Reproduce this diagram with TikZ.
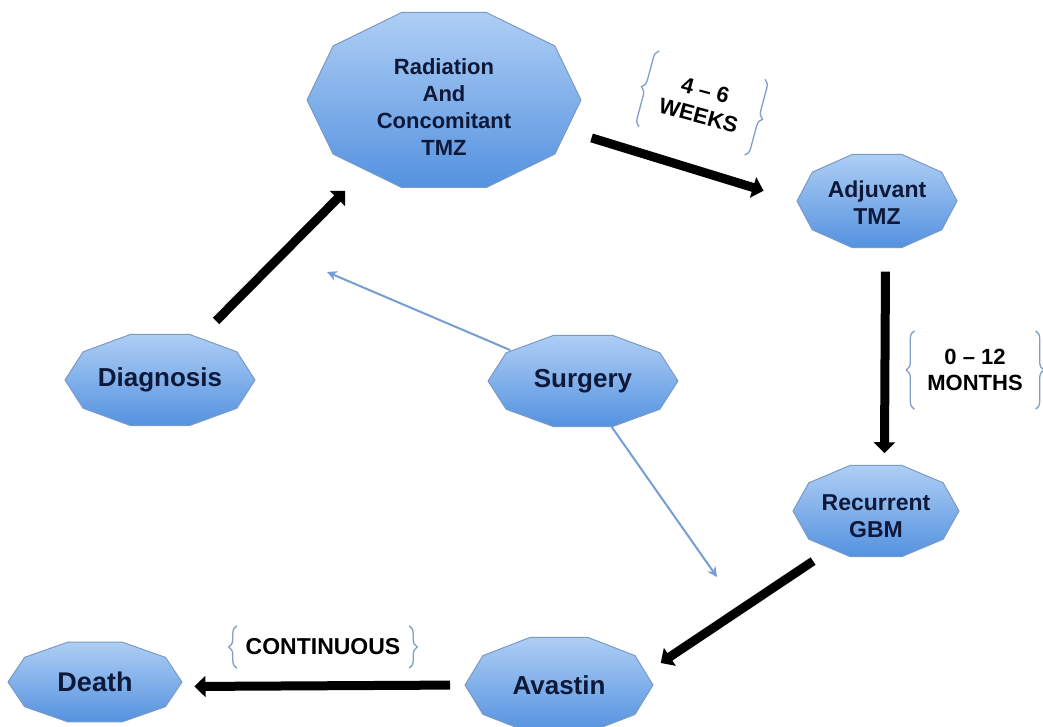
\documentclass[tikz,border=0pt]{standalone}
\usepackage{fontspec}
\setmainfont{Liberation Sans}
\usetikzlibrary{shapes.geometric,arrows.meta,decorations.pathreplacing,calc}
\definecolor{decatop}{RGB}{174,206,244}
\definecolor{decabot}{RGB}{84,146,224}
\definecolor{decaedge}{RGB}{122,154,196}
\definecolor{decatext}{RGB}{14,24,56}
\definecolor{bracecol}{RGB}{128,158,200}
\definecolor{thincol}{RGB}{118,158,212}
\tikzset{
  hitbox/.style={ellipse, inner sep=0pt, outer sep=0pt},
  decashape/.style={top color=decatop, bottom color=decabot, draw=decaedge, line width=1pt, line join=round},
  decalabel/.style={text=decatext, align=center, inner sep=0pt},
  thick arrow/.style={line width=9pt, -{Triangle[length=11pt,width=21pt]}},
  thin arrow/.style={line width=2pt, draw=thincol, -{Stealth[length=10pt,width=10pt]}},
  lbl/.style={align=center, inner sep=0pt, font=\bfseries\fontsize{22}{26}\selectfont},
  bracestyle/.style={draw=bracecol, line width=1.3pt, decorate, decoration={brace, amplitude=8pt}},
}
\newcommand\decanode[8]{%
  \node[hitbox, minimum width=#4*2pt, minimum height=#5*2pt] (#1) at (#2,#3) {};
  \path[decashape, shift={(#2,#3)}] plot[samples at={0,36,...,324}] ({#4*cos(\x)},{#5*sin(\x)}) -- cycle;
  \node[decalabel, font=\bfseries#6, yshift=#8] at (#1.center) {#7};
}
\begin{document}
\begin{tikzpicture}[x=1pt,y=-1pt]
\useasboundingbox (0,0) rectangle (1043,727);
\fill[white] (0,0) rectangle (1043,727);

\decanode{rad}{444}{100}{137}{92}{\fontsize{22}{27}\selectfont}{Radiation\\And\\Concomitant\\TMZ}{-7pt}
\decanode{adj}{877}{201}{80}{49}{\fontsize{23}{27}\selectfont}{Adjuvant\\TMZ}{-2pt}
\decanode{diag}{160}{380}{95}{48}{\fontsize{26}{30}\selectfont}{Diagnosis}{0pt}
\decanode{surg}{583}{381}{95}{48}{\fontsize{26}{30}\selectfont}{Surgery}{0pt}
\decanode{rec}{876}{511}{83}{48}{\fontsize{23}{27}\selectfont}{Recurrent\\GBM}{-5pt}
\decanode{ava}{559}{685}{94}{50}{\fontsize{26}{30}\selectfont}{Avastin}{0pt}
\decanode{death}{95}{682}{87}{42}{\fontsize{27}{30}\selectfont}{Death}{0pt}

% thick arrows
\draw[thick arrow, shorten <=22pt, shorten >=24pt] (diag.47.5) -- (rad.222.3);
\draw[thick arrow, shorten <=20pt, shorten >=35pt] (rad.-14) -- (adj.west);
\draw[thick arrow, shorten <=22pt, shorten >=10pt] (adj.-80) -- (rec.80);
\draw[thick arrow, shorten <=19pt, shorten >=14pt] (rec.220.4) -- (ava.9.9);
\draw[thick arrow, shorten <=15pt, shorten >=13pt] (ava.west) -- (death.-3);

% thin arrows
\coordinate (tipA) at (327,272);
\coordinate (tipB) at (717,577);
\draw[thin arrow] (surg.157.8) -- (tipA);
\draw[thin arrow] (surg.-58.5) -- (tipB);

% labels with braces
\node[lbl, rotate=-15, minimum width=109pt, minimum height=78pt] (wk) at (702,103) {4 – 6\\WEEKS};
\draw[bracestyle] (wk.south west) -- (wk.north west);
\draw[bracestyle] (wk.north east) -- (wk.south east);

\node[lbl, minimum width=121pt, minimum height=78pt] (mo) at (975,370) {0 – 12\\MONTHS};
\draw[bracestyle] (mo.south west) -- (mo.north west);
\draw[bracestyle] (mo.north east) -- (mo.south east);

\node[lbl, font=\bfseries\fontsize{23}{26}\selectfont, minimum width=172pt, minimum height=42pt] (cont) at (323,647) {CONTINUOUS};
\draw[bracestyle] (cont.south west) -- (cont.north west);
\draw[bracestyle] (cont.north east) -- (cont.south east);
\end{tikzpicture}
\end{document}
